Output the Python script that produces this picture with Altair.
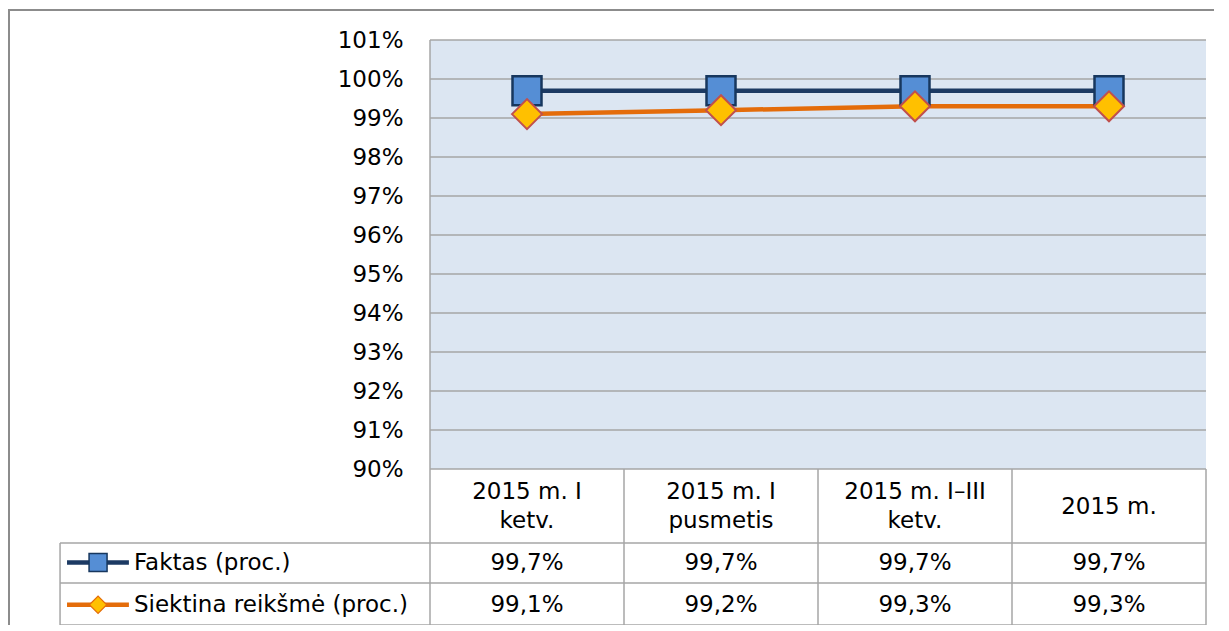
import altair as alt
import pandas as pd

# ---- data ----
categories = ["2015 m. I\nketv.", "2015 m. I\npusmetis", "2015 m. I–III\nketv.", "2015 m."]
faktas = [99.7, 99.7, 99.7, 99.7]
siektina = [99.1, 99.2, 99.3, 99.3]
series_names = ["Faktas (proc.)", "Siektina reikšmė (proc.)"]
y_ticks = [90, 91, 92, 93, 94, 95, 96, 97, 98, 99, 100, 101]

# ---- geometry (in scale units) ----
W, H = 776, 585
XDOM = [0, 4]
YDOM = [86, 101]
PXY = H / (YDOM[1] - YDOM[0])   # pixels per y unit
LEGX = -1.907          # left edge of legend column
HDR_BOTTOM = 88.103    # bottom of header row
ROW1_BOTTOM = 87.077   # bottom of first data row
HDR_CENTER = 89.03
ROW1_Y = 87.60
ROW2_Y = 86.52
LINE_H = 29
FONT = "DejaVu Sans"
FS = 23
GRID = "#A6A6A6"
NAVY = "#1C3A63"
ORANGE = "#E46C0A"

def fmt(v):
    return f"{v:.1f}".replace(".", ",") + "%"

xs = [i + 0.5 for i in range(len(categories))]

ser = pd.DataFrame(
    [{"x": x, "v": v, "s": series_names[0]} for x, v in zip(xs, faktas)]
    + [{"x": x, "v": v, "s": series_names[1]} for x, v in zip(xs, siektina)]
)

XS = alt.Scale(domain=XDOM, nice=False, zero=False)
YS = alt.Scale(domain=YDOM, nice=False, zero=False)
YAX = alt.Axis(values=y_ticks, labelExpr="datum.value + '%'", grid=False, ticks=False,
               domain=False, labelFont=FONT, labelFontSize=FS, labelColor="#000000",
               labelPadding=27, title=None)
def X(f):
    return alt.X(f"{f}:Q", scale=XS, axis=None)
def Y(f):
    return alt.Y(f"{f}:Q", scale=YS, axis=YAX, title=None)

bg = alt.Chart(pd.DataFrame({"x0": [0], "x1": [4], "y0": [90], "y1": [101]})).mark_rect(
    fill="#DCE6F2"
).encode(x=X("x0"), x2="x1:Q", y=Y("y0"), y2="y1:Q")

grid = alt.Chart(pd.DataFrame({"y": y_ticks[1:], "x0": [0] * 11, "x1": [4] * 11})).mark_rule(
    color=GRID, strokeWidth=1.3
).encode(y=Y("y"), x=X("x0"), x2="x1:Q")

hlines = pd.DataFrame({
    "y": [90, HDR_BOTTOM, ROW1_BOTTOM, 86],
    "x0": [0, LEGX, LEGX, LEGX],
    "x1": [4, 4, 4, 4],
})
vlines = pd.DataFrame({
    "x": [LEGX, 0, 1, 2, 3, 4],
    "y0": [86, 86, 86, 86, 86, 86],
    "y1": [HDR_BOTTOM, 101, 90, 90, 90, 90],
})
hrule = alt.Chart(hlines).mark_rule(color=GRID, strokeWidth=1.5).encode(y=Y("y"), x=X("x0"), x2="x1:Q")
vrule = alt.Chart(vlines).mark_rule(color=GRID, strokeWidth=1.5).encode(x=X("x"), y=Y("y0"), y2="y1:Q")

colors = alt.Scale(domain=series_names, range=[NAVY, ORANGE])
lines = alt.Chart(ser).mark_line(strokeWidth=4.5).encode(
    x=X("x"), y=Y("v"), color=alt.Color("s:N", scale=colors, legend=None)
)
sq = alt.Chart(ser[ser.s == series_names[0]].reset_index(drop=True)).mark_point(
    shape="square", size=841, filled=True, fill="#558ED5", stroke="#17375E", strokeWidth=2.5, opacity=1
).encode(x=X("x"), y=Y("v"))
dm = alt.Chart(ser[ser.s == series_names[1]].reset_index(drop=True)).mark_point(
    shape="diamond", size=900, filled=True, fill="#FFC000", stroke="#C0504D", strokeWidth=2, opacity=1
).encode(x=X("x"), y=Y("v"))

# header labels: first line positioned so the block is centred in the header row
nlines = [c.count("\n") + 1 for c in categories]
hdr_df = pd.DataFrame({
    "x": xs,
    "t": categories,
    "y": [HDR_CENTER + (n - 1) * LINE_H / 2 / PXY for n in nlines],
})
hdr = alt.Chart(hdr_df).mark_text(
    font=FONT, fontSize=FS, color="#000000", align="center", baseline="middle",
    lineHeight=LINE_H, lineBreak="\n"
).encode(x=X("x"), y=Y("y"), text="t:N")

cells = pd.DataFrame(
    [{"x": x, "y": ROW1_Y, "t": fmt(v)} for x, v in zip(xs, faktas)]
    + [{"x": x, "y": ROW2_Y, "t": fmt(v)} for x, v in zip(xs, siektina)]
)
celltxt = alt.Chart(cells).mark_text(font=FONT, fontSize=FS, color="#000000", align="center", baseline="middle").encode(
    x=X("x"), y=Y("y"), text="t:N"
)

leg = pd.DataFrame({"s": series_names, "y": [ROW1_Y, ROW2_Y],
                    "tx": [-1.526, -1.526], "l0": [-1.871, -1.871], "l1": [-1.552, -1.552],
                    "mx": [-1.711, -1.711]})
legtxt = alt.Chart(leg).mark_text(font=FONT, fontSize=FS, color="#000000", align="left", baseline="middle").encode(
    x=X("tx"), y=Y("y"), text="s:N"
)
legline = alt.Chart(leg).mark_rule(strokeWidth=4.5).encode(
    x=X("l0"), x2="l1:Q", y=Y("y"), color=alt.Color("s:N", scale=colors, legend=None)
)
legsq = alt.Chart(leg.iloc[[0]].reset_index(drop=True)).mark_point(
    shape="square", size=324, filled=True, fill="#558ED5", stroke="#17375E", strokeWidth=1.5, opacity=1
).encode(x=X("mx"), y=Y("y"))
legdm = alt.Chart(leg.iloc[[1]].reset_index(drop=True)).mark_point(
    shape="diamond", size=300, filled=True, fill="#FFC000", stroke="#E46C0A", strokeWidth=1.2, opacity=1
).encode(x=X("mx"), y=Y("y"))

# outer frame (top and left edges of the chart area)
frame_df = pd.DataFrame({"a": [0]})
frame_top = alt.Chart(frame_df).mark_rule(color="#8C8C8C", strokeWidth=2).encode(
    x=alt.value(-422), x2=alt.value(W + 8), y=alt.value(-30)
)
frame_left = alt.Chart(frame_df).mark_rule(color="#8C8C8C", strokeWidth=2).encode(
    x=alt.value(-421), y=alt.value(-31), y2=alt.value(H + 10)
)

chart = alt.layer(
    bg, grid, hrule, vrule, lines, sq, dm, hdr, celltxt, legline, legsq, legdm, legtxt,
    frame_top, frame_left
).properties(
    width=W, height=H,
    autosize=alt.AutoSizeParams(type="none"),
    padding={"left": 422, "top": 32, "right": 8, "bottom": 0},
).configure_view(stroke=None)

chart.save("out.html", embed_options={"renderer": "svg", "actions": False})
